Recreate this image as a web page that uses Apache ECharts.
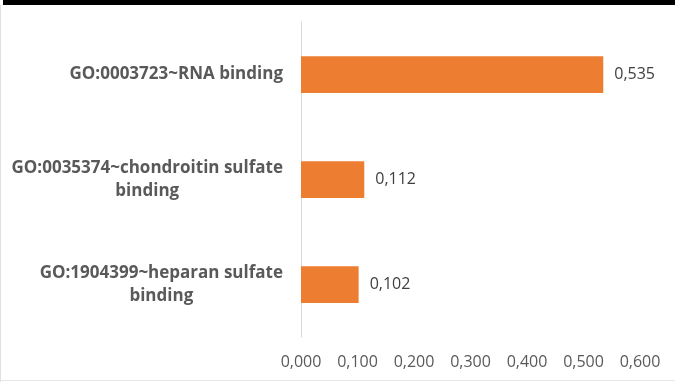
<!DOCTYPE html>
<html>
<head>
<meta charset="utf-8">
<script src="https://cdn.jsdelivr.net/npm/echarts@6/dist/echarts.min.js"></script>
<style>
  html, body { margin: 0; padding: 0; background: #fff; }
  #chart { width: 675px; height: 382px; }
</style>
</head>
<body>
<div id="chart"></div>
<script>
const categories = [
  ['GO:0003723~RNA binding'],
  ['GO:0035374~chondroitin sulfate', 'binding'],
  ['GO:1904399~heparan sulfate', 'binding']
];
const values = [0.535, 0.112, 0.102];
const axisMin = 0;
const axisMax = 0.6;
const axisStep = 0.1;

const fmt = v => v.toFixed(3).replace('.', ',');

const chart = echarts.init(document.getElementById('chart'));

chart.setOption({
  animation: false,
  textStyle: { fontFamily: 'Open Sans' },
  grid: { left: 301, top: 22, width: 339, height: 315 },
  graphic: [
    { type: 'rect', shape: { x: 3, y: 0, width: 672, height: 5 }, style: { fill: '#000' } },
    { type: 'rect', shape: { x: 0, y: 5, width: 1, height: 377 }, style: { fill: '#e0e0e0' } },
    { type: 'rect', shape: { x: 0, y: 380, width: 675, height: 1 }, style: { fill: '#e6e6e6' } }
  ],
  xAxis: {
    type: 'value',
    min: axisMin,
    max: axisMax,
    interval: axisStep,
    axisLine: { show: false },
    axisTick: { show: false },
    splitLine: { show: false },
    axisLabel: {
      formatter: fmt,
      color: '#595959',
      fontSize: 16,
      margin: 17
    }
  },
  yAxis: {
    type: 'category',
    inverse: true,
    data: categories.map(c => c.join('\n')),
    axisLine: { show: true, lineStyle: { color: '#d9d9d9', width: 1 } },
    axisTick: { show: false },
    axisLabel: {
      margin: 18,
      align: 'right',
      formatter: v => v.split('\n').map(s => '{c|' + s + '}').join('\n'),
      rich: {
        c: {
          align: 'center',
          color: '#595959',
          fontSize: 17,
          fontWeight: 'bold',
          lineHeight: 23,
          fontFamily: 'Open Sans'
        }
      }
    }
  },
  series: [{
    type: 'bar',
    data: values,
    barCategoryGap: '65%',
    itemStyle: { color: '#ed7d31' },
    label: {
      show: true,
      position: 'right',
      distance: 11,
      formatter: p => fmt(p.value),
      color: '#404040',
      fontSize: 16
    }
  }]
});
</script>
</body>
</html>
